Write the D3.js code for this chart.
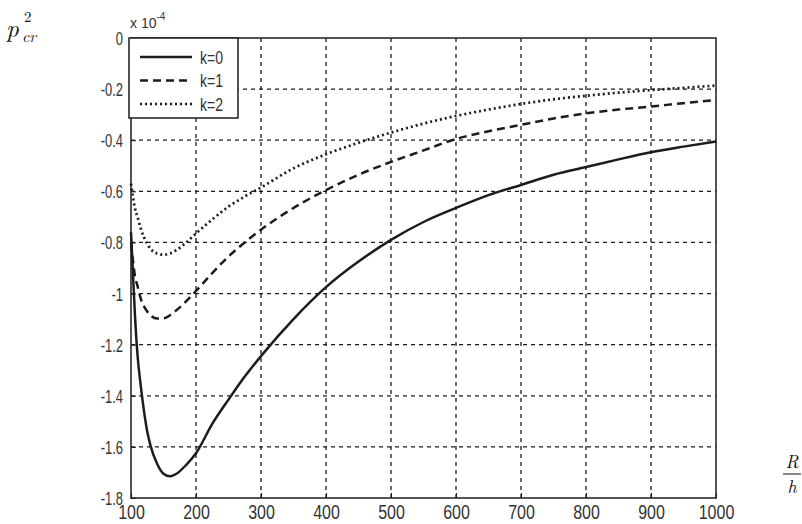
<!DOCTYPE html>
<html>
<head>
<meta charset="utf-8">
<script src="https://cdn.jsdelivr.net/npm/d3@7"></script>
<style>
  body { margin: 0; background: #fff; }
  svg { display: block; }
</style>
</head>
<body>
<script>
// R/h values shared by all curves
const rh = [100, 103, 106, 110, 115, 120, 125, 130, 140, 150, 160, 170, 185, 200, 225, 250,
  275, 300, 350, 400, 450, 500, 550, 600, 650, 700, 750, 800, 850, 900, 950, 1000];

// p_cr^2 in units of 1e-4
const k0 = [-0.76, -0.92, -1.08, -1.24, -1.36, -1.46, -1.54, -1.595, -1.665, -1.705, -1.715,
  -1.705, -1.67, -1.625, -1.51, -1.415, -1.325, -1.245, -1.10, -0.975, -0.875, -0.79, -0.72,
  -0.665, -0.615, -0.575, -0.535, -0.505, -0.475, -0.447, -0.425, -0.405];
const k1 = [-0.80, -0.87, -0.93, -0.97, -1.02, -1.05, -1.07, -1.085, -1.098, -1.097, -1.085,
  -1.065, -1.03, -0.99, -0.92, -0.855, -0.80, -0.75, -0.665, -0.595, -0.535, -0.485, -0.44,
  -0.395, -0.365, -0.34, -0.315, -0.295, -0.28, -0.268, -0.255, -0.243];
const k2 = [-0.57, -0.62, -0.665, -0.70, -0.745, -0.78, -0.805, -0.825, -0.843, -0.848, -0.843,
  -0.83, -0.80, -0.765, -0.71, -0.66, -0.62, -0.585, -0.51, -0.455, -0.41, -0.37, -0.335,
  -0.305, -0.28, -0.258, -0.24, -0.226, -0.214, -0.204, -0.195, -0.186];

const seriesNames = ["k=0", "k=1", "k=2"];
const xTicks = [100, 200, 300, 400, 500, 600, 700, 800, 900, 1000];
const yTicks = [0, -0.2, -0.4, -0.6, -0.8, -1, -1.2, -1.4, -1.6, -1.8];

const width = 802;
const height = 524;
const plot = { left: 131, right: 716, top: 38, bottom: 498 };
const ink = "#1c1c1c";
const sans = "Liberation Sans, Arial, sans-serif";

const svg = d3.select("body").append("svg")
  .attr("width", width)
  .attr("height", height);

svg.append("rect").attr("width", width).attr("height", height).attr("fill", "#fff");

const x = d3.scaleLinear().domain([100, 1000]).range([plot.left, plot.right]);
const y = d3.scaleLinear().domain([-1.8, 0]).range([plot.bottom, plot.top]);

// grid
const grid = svg.append("g").attr("stroke", ink).attr("stroke-width", 1.3)
  .attr("stroke-dasharray", "4,4");
grid.selectAll("line.gx").data(xTicks.slice(1, -1)).enter().append("line")
  .attr("x1", d => x(d)).attr("x2", d => x(d))
  .attr("y1", plot.top).attr("y2", plot.bottom);
grid.selectAll("line.gy").data(yTicks.slice(1, -1)).enter().append("line")
  .attr("x1", plot.left).attr("x2", plot.right)
  .attr("y1", d => y(d)).attr("y2", d => y(d));

// axes
const xAxis = d3.axisBottom(x).tickValues(xTicks).tickSize(-5).tickFormat(d3.format("d"));
const gx = svg.append("g")
  .attr("transform", "translate(0," + plot.bottom + ")")
  .call(xAxis);
gx.select(".domain").remove();
gx.selectAll(".tick line").attr("stroke", ink);
gx.selectAll(".tick text")
  .attr("y", 0).attr("dy", null)
  .attr("transform", "translate(0,21) scale(0.8,1)")
  .attr("font-family", sans)
  .attr("font-size", 20)
  .attr("fill", "#333");

const yAxis = d3.axisLeft(y).tickValues(yTicks).tickSize(-5).tickFormat(d => d === 0 ? "0" : String(d));
const gy = svg.append("g")
  .attr("transform", "translate(" + plot.left + ",0)")
  .call(yAxis);
gy.select(".domain").remove();
gy.selectAll(".tick line").attr("stroke", ink);
gy.selectAll(".tick text")
  .attr("x", 0).attr("dy", null)
  .attr("text-anchor", "end")
  .attr("transform", "translate(-8,6.5) scale(0.72,1)")
  .attr("font-family", sans)
  .attr("font-size", 18)
  .attr("fill", "#333");

svg.append("rect")
  .attr("x", plot.left).attr("y", plot.top)
  .attr("width", plot.right - plot.left).attr("height", plot.bottom - plot.top)
  .attr("fill", "none").attr("stroke", ink).attr("stroke-width", 1.5);

// curves
const styles = [
  { dash: null, w: 2.5 },
  { dash: "8,5", w: 2.5 },
  { dash: "2,3", w: 2.7 }
];
const line = d3.line()
  .x(d => x(d[0]))
  .y(d => y(d[1]))
  .curve(d3.curveMonotoneX);

[k0, k1, k2].forEach((vals, i) => {
  svg.append("path")
    .datum(rh.map((r, j) => [r, vals[j]]))
    .attr("d", line)
    .attr("fill", "none")
    .attr("stroke", ink)
    .attr("stroke-width", styles[i].w)
    .attr("stroke-dasharray", styles[i].dash);
});

// legend
const legend = svg.append("g");
legend.append("rect")
  .attr("x", plot.left - 2).attr("y", plot.top)
  .attr("width", 109).attr("height", 80)
  .attr("fill", "#fff").attr("stroke", ink).attr("stroke-width", 1.5);
seriesNames.forEach((name, i) => {
  const ly = 57 + i * 23.5;
  legend.append("line")
    .attr("x1", 140).attr("x2", 192)
    .attr("y1", ly).attr("y2", ly)
    .attr("stroke", ink)
    .attr("stroke-width", styles[i].w)
    .attr("stroke-dasharray", styles[i].dash);
  legend.append("text")
    .attr("transform", "translate(200," + (ly + 6.5) + ") scale(0.78,1)")
    .attr("font-family", sans)
    .attr("font-size", 18)
    .attr("fill", "#333")
    .text(name);
});

// exponent label
const expo = svg.append("text")
  .attr("x", 130).attr("y", 28)
  .attr("font-family", sans)
  .attr("font-size", 14)
  .attr("fill", "#333");
expo.append("tspan").text("x 10");
expo.append("tspan").attr("dy", -8).attr("font-size", 10).text("-4");

// y label: p_cr^2
const serif = "Latin Modern Roman, DejaVu Serif, Liberation Serif, serif";
svg.append("text")
  .attr("x", 6).attr("y", 37)
  .attr("font-family", serif).attr("font-style", "italic")
  .attr("font-size", 25).attr("fill", "#111")
  .text("p");
svg.append("text")
  .attr("x", 22).attr("y", 42)
  .attr("font-family", serif).attr("font-style", "italic")
  .attr("font-size", 16).attr("fill", "#111")
  .text("cr");
svg.append("text")
  .attr("x", 24).attr("y", 22)
  .attr("font-family", serif)
  .attr("font-size", 15).attr("fill", "#111")
  .text("2");

// x label: R/h
svg.append("text")
  .attr("x", 792).attr("y", 468)
  .attr("text-anchor", "middle")
  .attr("font-family", serif).attr("font-style", "italic")
  .attr("font-size", 18).attr("fill", "#111")
  .text("R");
svg.append("line")
  .attr("x1", 783).attr("x2", 801)
  .attr("y1", 474).attr("y2", 474)
  .attr("stroke", "#111").attr("stroke-width", 1);
svg.append("text")
  .attr("x", 792).attr("y", 493)
  .attr("text-anchor", "middle")
  .attr("font-family", serif).attr("font-style", "italic")
  .attr("font-size", 18).attr("fill", "#111")
  .text("h");
</script>
</body>
</html>
